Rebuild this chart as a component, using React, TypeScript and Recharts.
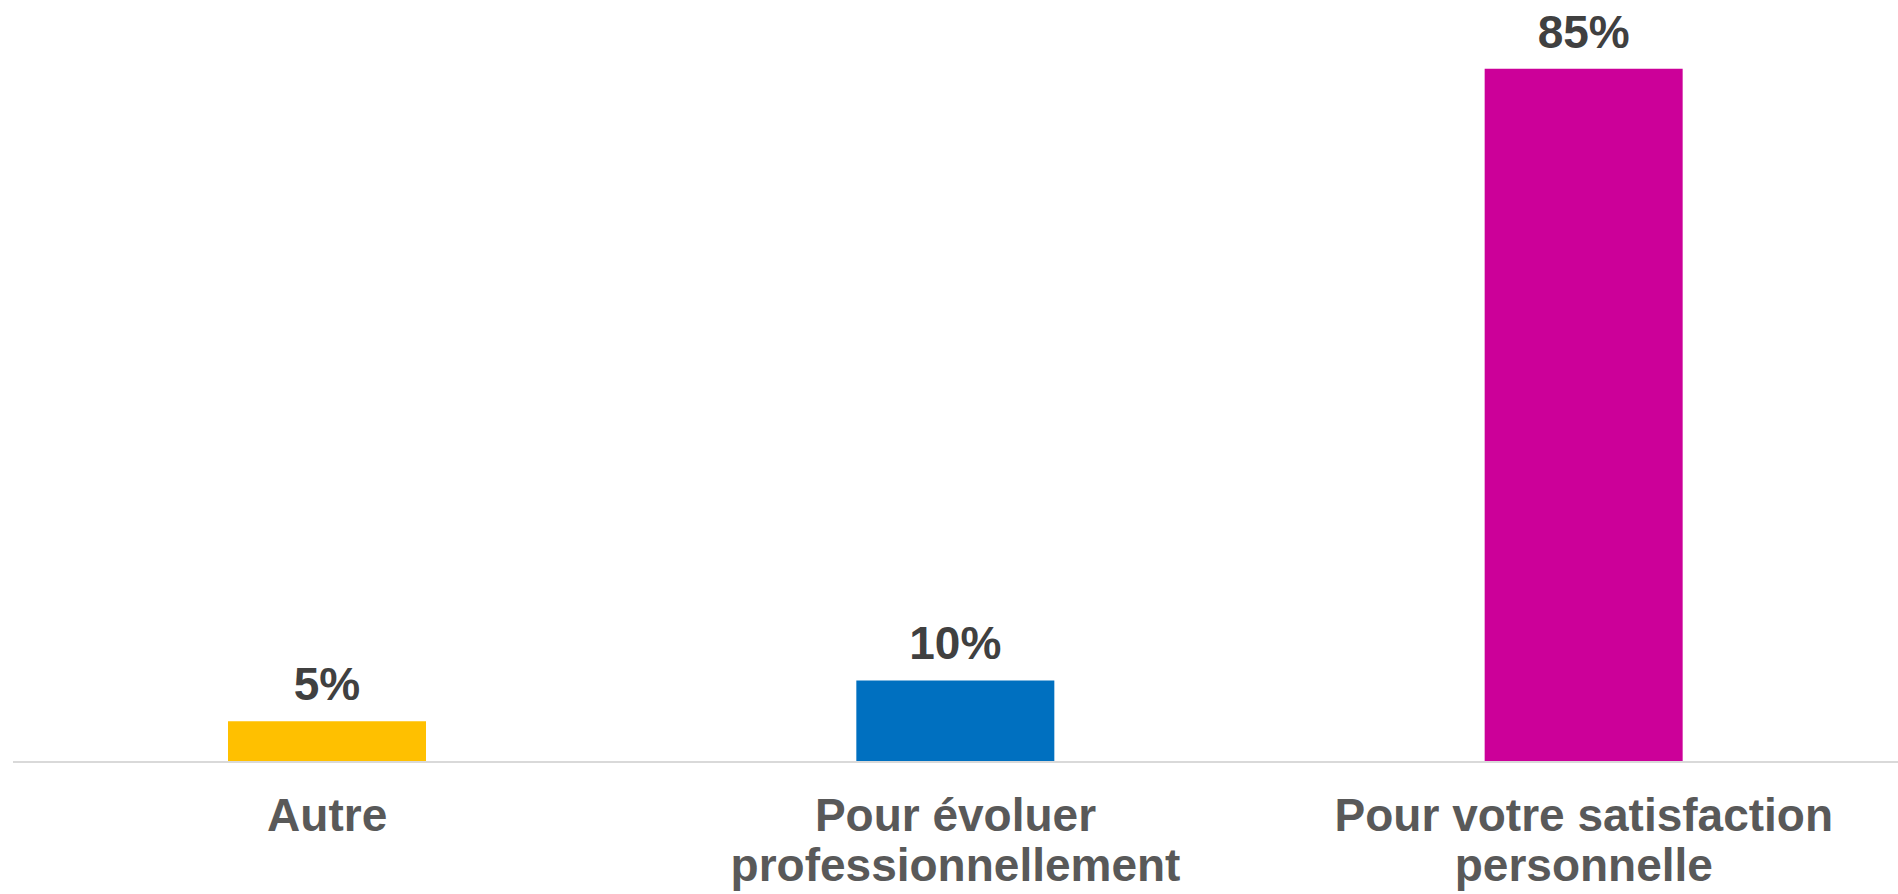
import { BarChart, Bar, XAxis, YAxis, Cell, LabelList } from "recharts";

// Data
const categories = ["Autre", "Pour évoluer professionnellement", "Pour votre satisfaction personnelle"];
const tickLines = [["Autre"], ["Pour évoluer", "professionnellement"], ["Pour votre satisfaction", "personnelle"]];
const shares = [5, 10, 85];
const barColors = ["#FFC000", "#0070C0", "#CC0099"];

const data = categories.map((name, i) => ({ name, value: shares[i], idx: i }));

const FONT = "'Liberation Sans', Arial, sans-serif";

function CategoryTick(props: any) {
    const { x, y, index } = props;
    const lines = tickLines[index] || [];
    return (
        <g>
            {lines.map((line, i) => (
                <text
                    key={i}
                    x={x}
                    y={y + 61 + i * 50}
                    textAnchor="middle"
                    fontFamily={FONT}
                    fontWeight="bold"
                    fontSize={46}
                    fill="#595959"
                >
                    {line}
                </text>
            ))}
        </g>
    );
}

function ValueLabel(props: any) {
    const { x, y, width, value } = props;
    return (
        <text
            x={x + width / 2}
            y={y - 21}
            textAnchor="middle"
            fontFamily={FONT}
            fontWeight="bold"
            fontSize={46}
            fill="#404040"
        >
            {`${value}%`}
        </text>
    );
}

export default function App() {
    return (
        <div style={{ position: "absolute", top: 0, left: 0, background: "#ffffff", width: 1898, height: 894 }}>
            <BarChart
                width={1898}
                height={894}
                data={data}
                margin={{ top: 28, right: 0, bottom: 0, left: 13 }}
            >
                <XAxis
                    dataKey="name"
                    interval={0}
                    height={132}
                    tickLine={false}
                    axisLine={{ stroke: "#d9d9d9", strokeWidth: 2 }}
                    tick={<CategoryTick />}
                />
                <YAxis hide domain={[0, 90]} />
                <Bar dataKey="value" barSize={198} isAnimationActive={false}>
                    {data.map((d) => (
                        <Cell key={d.idx} fill={barColors[d.idx]} />
                    ))}
                    <LabelList dataKey="value" content={<ValueLabel />} />
                </Bar>
            </BarChart>
        </div>
    );
}
